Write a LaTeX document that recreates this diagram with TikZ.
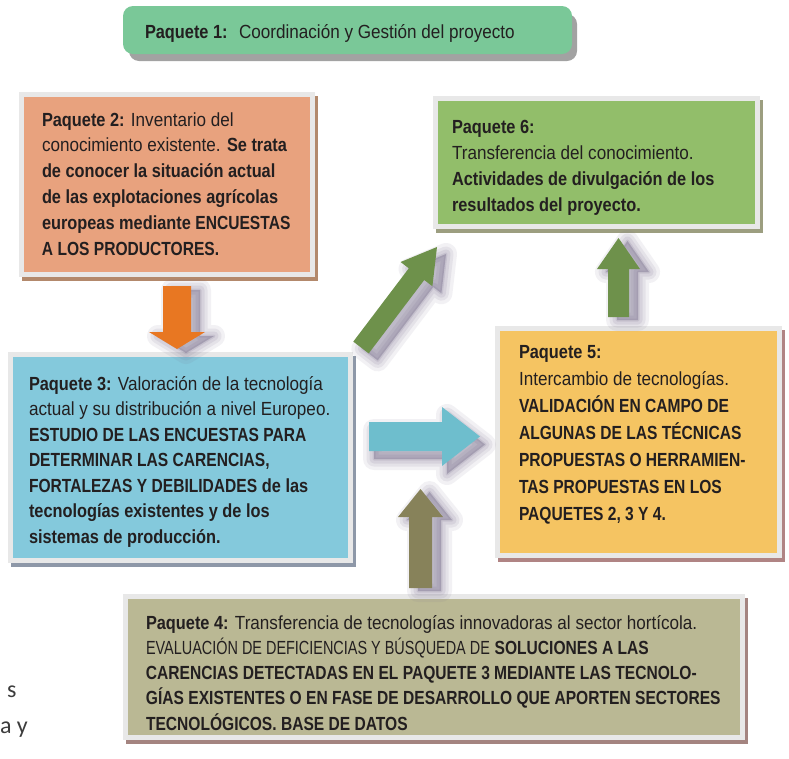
\documentclass[tikz,border=0pt]{standalone}
\usepackage{fontspec}
\setmainfont{Liberation Sans}[FakeStretch=0.90]
\newfontfamily\bfam{Liberation Sans Bold}[FakeStretch=0.86]
\newfontfamily\bcapsfam{Liberation Sans Bold}[FakeStretch=0.82]
\newfontfamily\rcapsfam{Liberation Sans}[FakeStretch=0.76]
\newfontfamily\sidefont{Carlito}
\newcommand\B[1]{{\bfam #1}}
\newcommand\BC[1]{{\bcapsfam #1}}
\newcommand\RC[1]{{\rcapsfam #1}}
\usetikzlibrary{shadows}
\definecolor{txtcol}{HTML}{231F20}
\definecolor{framecol}{HTML}{E8E8E8}
\definecolor{p1col}{HTML}{7AC898}
\definecolor{p1sh}{HTML}{A2A2A2}
\definecolor{p2col}{HTML}{E8A27E}
\definecolor{p2sh}{HTML}{B3896C}
\definecolor{p6col}{HTML}{92BE6A}
\definecolor{p6sh}{HTML}{9C9E80}
\definecolor{p3col}{HTML}{84C9DC}
\definecolor{p3sh}{HTML}{8E98A8}
\definecolor{p5col}{HTML}{F5C462}
\definecolor{p5sh}{HTML}{B08484}
\definecolor{p4col}{HTML}{BAB894}
\definecolor{p4sh}{HTML}{A48480}
\definecolor{orangecol}{HTML}{E87722}
\definecolor{bluecol}{HTML}{6EBECD}
\definecolor{olivecol}{HTML}{87825A}
\definecolor{greencol}{HTML}{6E914B}
\definecolor{shcol}{HTML}{786E8C}
\definecolor{sidecol}{HTML}{3C3C3C}
\newcommand\plines[1]{\begin{tabular}[t]{@{}l@{}}#1\end{tabular}}
\newcommand\sharrow[3]{%
  \foreach \w/\o in {22/0.09,15/0.11,9/0.13,3/0.16}{%
    \filldraw[shcol, opacity=\o, line width=\w pt, line join=round, shift={#2}] #3;
  }%
  \fill[#1] #3;
}
\begin{document}
\begin{tikzpicture}[x=1pt,y=-1pt,
  pbox/.style={draw=framecol, line width=5pt, inner sep=0pt, outer sep=0pt},
  txt/.style={anchor=base west, inner sep=0pt, outer sep=0pt, text=txtcol},
  sidetxt/.style={anchor=base west, inner sep=0pt, outer sep=0pt, text=sidecol, font=\sidefont\fontsize{24}{30}\selectfont}]
\useasboundingbox (0,0) rectangle (789,758);
\fill[white] (0,0) rectangle (789,758);

% Paquete 1
\fill[p1sh, rounded corners=10pt] (129,14) rectangle (577,61);
\node[fill=p1col, rounded corners=10pt, minimum width=449pt, minimum height=48pt, inner sep=0pt] (p1) at (347.5,30) {};
\node[txt, font=\fontsize{19}{24}\selectfont] (t1) at (145,38) {\B{Paquete 1:}\hspace{0.6em}Coordinación y Gestión del proyecto};

% Boxes
\node[pbox, fill=p2col, minimum width=291pt, minimum height=180pt,
  drop shadow={shadow xshift=3pt, shadow yshift=-4pt, fill=p2sh, draw=p2sh, line width=5pt, opacity=1}] (p2) at (167,184.5) {};
\node[pbox, fill=p6col, minimum width=321.5pt, minimum height=127.5pt,
  drop shadow={shadow xshift=3pt, shadow yshift=-4pt, fill=p6sh, draw=p6sh, line width=5pt, opacity=1}] (p6) at (596.25,162.25) {};
\node[pbox, fill=p3col, minimum width=340pt, minimum height=206pt,
  drop shadow={shadow xshift=3pt, shadow yshift=-4pt, fill=p3sh, draw=p3sh, line width=5pt, opacity=1}] (p3) at (180.5,457.5) {};
\node[pbox, fill=p5col, minimum width=282.5pt, minimum height=226.5pt,
  drop shadow={shadow xshift=3pt, shadow yshift=-4pt, fill=p5sh, draw=p5sh, line width=5pt, opacity=1}] (p5) at (638.25,441.75) {};
\node[pbox, fill=p4col, minimum width=617pt, minimum height=141pt,
  drop shadow={shadow xshift=3pt, shadow yshift=-4pt, fill=p4sh, draw=p4sh, line width=5pt, opacity=1}] (p4) at (434,667) {};

% Arrows
\sharrow{orangecol}{(9,4)}{(163,286)--(191,286)--(191,332)--(205,332)--(177,349)--(149,332)--(163,332)--cycle}
\sharrow{bluecol}{(5,8)}{(369,422)--(442,422)--(442,407)--(480,436.5)--(442,466)--(442,451)--(369,451)--cycle}
\sharrow{olivecol}{(9,3)}{(409,588)--(409,517)--(398,517)--(420.5,489)--(443,517)--(432,517)--(432,588)--cycle}
\sharrow{greencol}{(9,3)}{(608,317)--(608,269)--(597,269)--(618.5,238)--(640,269)--(629,269)--(629,317)--cycle}
\sharrow{greencol}{(9,7)}{(353.3,341.6)--(408.8,268.3)--(400.6,262)--(437,247)--(432.4,286.2)--(424.2,280)--(368.7,353.4)--cycle}

% Texts
\node[txt, font=\fontsize{19}{25.8}\selectfont] (t2) at (42,126) {\plines{%
\B{Paquete 2:} Inventario del\\
conocimiento existente. \B{Se trata}\\
\B{de conocer la situación actual}\\
\B{de las explotaciones agrícolas}\\
\B{europeas mediante \BC{ENCUESTAS}}\\
\BC{A LOS PRODUCTORES.}}};

\node[txt, font=\fontsize{19}{26.3}\selectfont] (t6) at (452,133) {\plines{%
\B{Paquete 6:}\\
Transferencia del conocimiento.\\
\B{Actividades de divulgación de los}\\
\B{resultados del proyecto.}}};

\node[txt, font=\fontsize{19}{25.5}\selectfont] (t3) at (29,390) {\plines{%
\B{Paquete 3:} Valoración de la tecnología\\
actual y su distribución a nivel Europeo.\\
\BC{ESTUDIO DE LAS ENCUESTAS PARA}\\
\BC{DETERMINAR LAS CARENCIAS,}\\
\BC{FORTALEZAS Y DEBILIDADES} \B{de las}\\
\B{tecnologías existentes y de los}\\
\B{sistemas de producción.}}};

\node[txt, font=\fontsize{19}{27}\selectfont] (t5) at (519,358) {\plines{%
\B{Paquete 5:}\\
Intercambio de tecnologías.\\
\BC{VALIDACIÓN EN CAMPO DE}\\
\BC{ALGUNAS DE LAS TÉCNICAS}\\
\BC{PROPUESTAS O HERRAMIEN-}\\
\BC{TAS PROPUESTAS EN LOS}\\
\BC{PAQUETES 2, 3 Y 4.}}};

\node[txt, font=\fontsize{19}{25.3}\selectfont] (t4) at (146,629) {\plines{%
\B{Paquete 4:} Transferencia de tecnologías innovadoras al sector hortícola.\\
\RC{EVALUACIÓN DE DEFICIENCIAS Y BÚSQUEDA DE} \BC{SOLUCIONES A LAS}\\
\BC{CARENCIAS DETECTADAS EN EL PAQUETE 3 MEDIANTE LAS TECNOLO-}\\
\BC{GÍAS EXISTENTES O EN FASE DE DESARROLLO QUE APORTEN SECTORES}\\
\BC{TECNOLÓGICOS. BASE DE DATOS}}};

% side text
\node[sidetxt] (s1) at (7,697) {s};
\node[sidetxt] (s2) at (0,733) {a y};
\end{tikzpicture}
\end{document}
